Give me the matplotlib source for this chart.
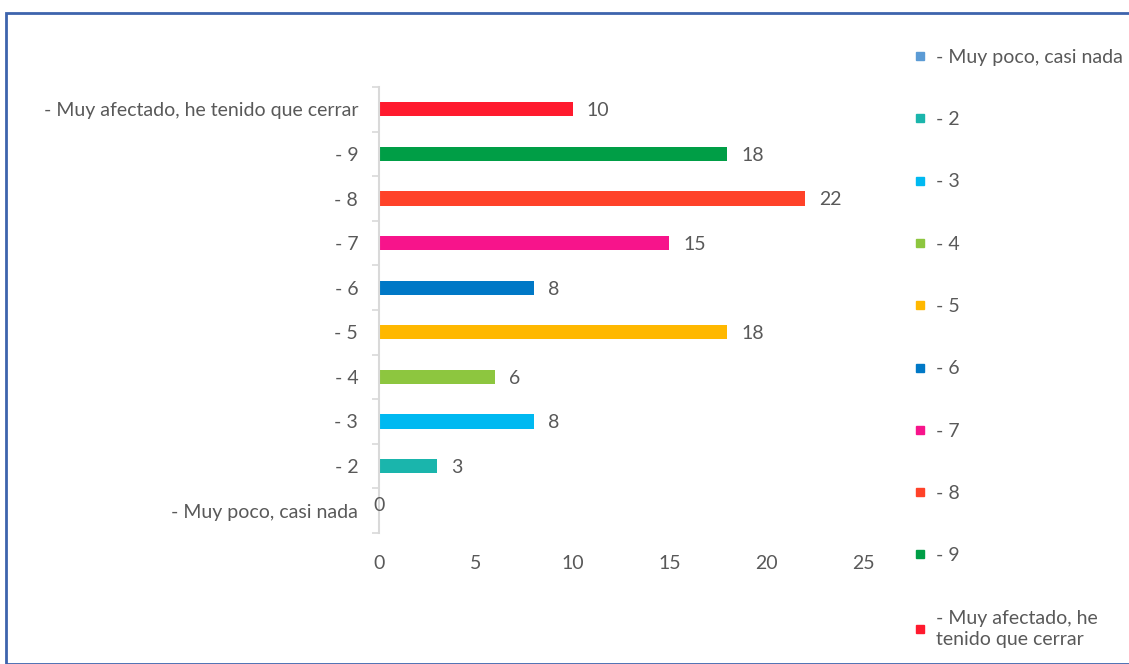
#!/usr/bin/env python3
"""Horizontal bar chart, one colour per answer level."""
import matplotlib.pyplot as plt
from matplotlib.lines import Line2D
from matplotlib.patches import Rectangle

plt.rcParams['font.family'] = ['Lato', 'DejaVu Sans']

CATEGORIES = ['- Muy poco, casi nada', '- 2', '- 3', '- 4', '- 5', '- 6',
              '- 7', '- 8', '- 9', '- Muy afectado, he tenido que cerrar']
LEGEND_LABELS = CATEGORIES[:-1] + ['- Muy afectado, he\ntenido que cerrar']
VALUES = [0, 3, 8, 6, 18, 8, 15, 22, 18, 10]
COLORS = ['#5B9BD5', '#1AB5AC', '#00B9F1', '#8DC63F', '#FFB800', '#0078C6',
          '#F7148B', '#FF4229', '#009E46', '#FF1A2E']
TEXT = '#595959'
FS = 14

fig = plt.figure(figsize=(11.29, 6.64), dpi=100)
ax = fig.add_axes([379 / 1129, 1 - 533 / 664, 484 / 1129, 446 / 664])

ypos = list(range(len(CATEGORIES)))
ax.barh(ypos, VALUES, height=0.32, color=COLORS)

for y, v in zip(ypos, VALUES):
    if v == 0:
        ax.annotate(str(v), (0, y), xytext=(0, 4), textcoords='offset points',
                    ha='center', va='center', fontsize=FS, color=TEXT)
    else:
        ax.annotate(str(v), (v, y), xytext=(10, -1), textcoords='offset points',
                    ha='left', va='center', fontsize=FS, color=TEXT)

ax.set_xlim(0, 25)
ax.set_ylim(-0.5, len(CATEGORIES) - 0.5)
ax.set_xticks([0, 5, 10, 15, 20, 25])
ax.set_yticks(ypos)
ax.set_yticklabels(CATEGORIES)
ax.set_yticks([i - 0.5 for i in range(len(CATEGORIES) + 1)], minor=True)

ax.tick_params(axis='y', which='major', length=0, pad=15, labelsize=FS,
               labelcolor=TEXT)
ax.tick_params(axis='y', which='minor', length=5, width=1.2, color='#D9D9D9')
ax.tick_params(axis='x', length=0, pad=16, labelsize=FS, labelcolor=TEXT)

for side in ['top', 'right', 'bottom']:
    ax.spines[side].set_visible(False)
ax.spines['left'].set_color('#D9D9D9')
ax.spines['left'].set_linewidth(1.5)

handles = [Line2D([], [], marker='s', linestyle='none', markersize=6,
                  markerfacecolor=c, markeredgecolor=c) for c in COLORS]
leg = fig.legend(handles, LEGEND_LABELS, loc='upper left',
                 bbox_to_anchor=(905 / 1129, 1 - 41 / 664), frameon=False,
                 fontsize=FS, labelcolor=TEXT, handlelength=0.7,
                 handletextpad=0.5, labelspacing=2.33, borderaxespad=0)
leg.get_texts()[-1].set_linespacing(1.35)

fig.patches.append(Rectangle((6 / 1129, 0), 1.1, 1 - 13 / 664,
                             transform=fig.transFigure, fill=False,
                             edgecolor='#3D64AD', linewidth=2, clip_on=False))

fig.savefig('out.png', dpi=100)
